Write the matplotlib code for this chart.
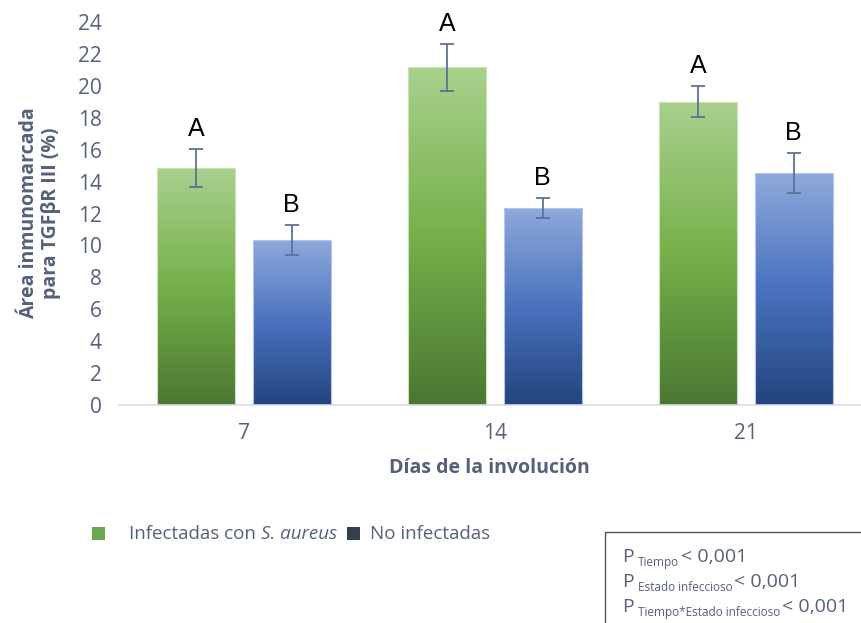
import numpy as np
import matplotlib
matplotlib.use("Agg")
import matplotlib.pyplot as plt
from matplotlib.colors import LinearSegmentedColormap
from matplotlib.patches import Rectangle

# data
days = ["7", "14", "21"]
infected = [14.85, 21.15, 19.0]
infected_err = [1.17, 1.5, 0.97]
uninfected = [10.35, 12.35, 14.55]
uninfected_err = [0.92, 0.65, 1.25]
infected_letters = ["A", "A", "A"]
uninfected_letters = ["B", "B", "B"]
p_subs = ["Tiempo", "Estado infeccioso", "Tiempo*Estado infeccioso"]
p_value = "< 0,001"

plt.rcParams['font.family'] = ['Open Sans', 'DejaVu Sans']

txt_col = '#56607a'
err_col = '#5b7397'

green_cmap = LinearSegmentedColormap.from_list(
    'g', [(0, '#a9d18e'), (0.5, '#76b04a'), (1, '#4a7832')])
blue_cmap = LinearSegmentedColormap.from_list(
    'b', [(0, '#8faadc'), (0.5, '#4a72be'), (1, '#22447e')])

fig = plt.figure(figsize=(8.61, 6.23), dpi=100)
ax = fig.add_axes([118.5 / 861, 1 - 405 / 623, (861 - 118.5) / 861, (405 - 22) / 623])

x = np.arange(len(days))
w = 0.31
off = 0.19

def gradient_bars(xs, vals, cmap, edge):
    bars = ax.bar(xs, vals, w, facecolor='none', edgecolor=edge, linewidth=0.8, zorder=3)
    grad = np.linspace(0, 1, 256).reshape(-1, 1)
    for b in bars:
        x0, y0 = b.get_x(), b.get_y()
        im = ax.imshow(grad, cmap=cmap, aspect='auto', zorder=2,
                       extent=[x0, x0 + b.get_width(), y0, y0 + b.get_height()],
                       origin='upper')
        im.set_clip_path(b)
    return bars

gradient_bars(x - off, infected, green_cmap, '#c9e0b8')
gradient_bars(x + off, uninfected, blue_cmap, '#b4c6e7')

ax.errorbar(x - off, infected, yerr=infected_err, fmt='none', ecolor=err_col,
            elinewidth=1.3, capsize=5, capthick=1.3, zorder=4)
ax.errorbar(x + off, uninfected, yerr=uninfected_err, fmt='none', ecolor=err_col,
            elinewidth=1.3, capsize=5, capthick=1.3, zorder=4)

for i in range(len(days)):
    ax.text(x[i] - off, infected[i] + infected_err[i] + 0.5, infected_letters[i],
            ha='center', va='bottom', fontsize=18, color='black',
            family=['Liberation Sans', 'DejaVu Sans'])
    ax.text(x[i] + off, uninfected[i] + uninfected_err[i] + 0.5, uninfected_letters[i],
            ha='center', va='bottom', fontsize=18, color='black',
            family=['Liberation Sans', 'DejaVu Sans'])

ax.set_xlim(-0.5, 2.458)
ax.set_ylim(0, 24)
ax.set_yticks(range(0, 25, 2))
ax.set_xticks(x)
ax.set_xticklabels(days)
ax.tick_params(axis='both', length=0, labelsize=15, labelcolor=txt_col)
ax.tick_params(axis='y', pad=12)
ax.tick_params(axis='x', pad=13)
for s in ['top', 'right', 'left']:
    ax.spines[s].set_visible(False)
ax.spines['bottom'].set_color('#d9dde3')
ax.spines['bottom'].set_linewidth(1.2)

ax.set_xlabel("Días de la involución", fontsize=14, fontweight='bold', color=txt_col, labelpad=10)
fig.text(40 / 861, 1 - 213 / 623, "Área inmunomarcada\npara TGFβR III (%)", rotation=90,
         ha='center', va='center', fontsize=14, fontweight='bold', color=txt_col,
         linespacing=1.15)

# legend
fig.patches.append(Rectangle((92 / 861, 1 - 540 / 623), 13 / 861, 13 / 623,
                             transform=fig.transFigure, facecolor='#6aa84f', edgecolor='none'))
t1 = fig.text(129 / 861, 1 - 534 / 623, "Infectadas con ", fontsize=13.5,
              color=txt_col, va='center', ha='left')
fig.canvas.draw()
bb = t1.get_window_extent()
fig.text(bb.x1 / 861, 1 - 534 / 623, "S. aureus", fontsize=13.5, style='italic',
         color=txt_col, va='center', ha='left')
fig.patches.append(Rectangle((347 / 861, 1 - 540 / 623), 13 / 861, 13 / 623,
                             transform=fig.transFigure, facecolor='#323f4f', edgecolor='none'))
fig.text(370 / 861, 1 - 534 / 623, "No infectadas", fontsize=13.5,
         color=txt_col, va='center', ha='left')

# p-value box
fig.patches.append(Rectangle((605 / 861, -0.05), 0.4, 1 - 532 / 623 + 0.05,
                             transform=fig.transFigure, facecolor='none',
                             edgecolor='#555555', linewidth=1.0))
fig.canvas.draw()
for k, sub in enumerate(p_subs):
    yb = 1 - (562 + 25 * k) / 623
    tp = fig.text(622 / 861, yb, "P", fontsize=14, color=txt_col, va='baseline', ha='left')
    fig.canvas.draw()
    xp = tp.get_window_extent().x1 + 4
    ts = fig.text(xp / 861, yb - 4 / 623, sub, fontsize=8.5, color=txt_col,
                  va='baseline', ha='left')
    fig.canvas.draw()
    xs = ts.get_window_extent().x1 + 2
    fig.text(xs / 861, yb, p_value, fontsize=14, color=txt_col, va='baseline', ha='left')

fig.savefig("out.png", dpi=100)
